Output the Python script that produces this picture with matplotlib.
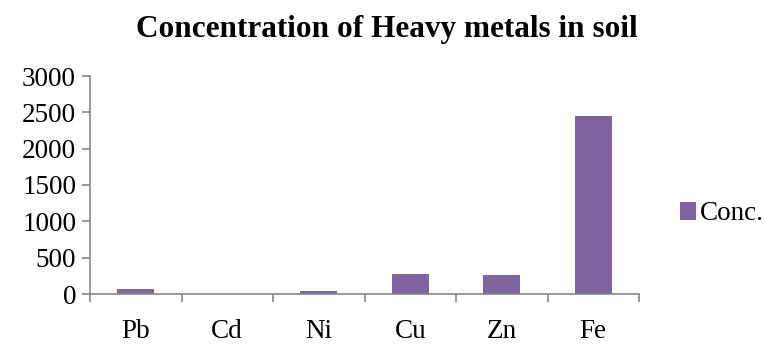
import matplotlib.pyplot as plt
import numpy as np

# soil heavy-metal concentrations
metals = ["Pb", "Cd", "Ni", "Cu", "Zn", "Fe"]
conc = [65, 1, 45, 275, 268, 2448]
y_ticks = [0, 500, 1000, 1500, 2000, 2500, 3000]

plt.rcParams["font.family"] = ["Liberation Serif", "DejaVu Serif"]

fig = plt.figure(figsize=(7.64, 3.46), dpi=100)
ax = fig.add_axes([90 / 764, 1 - 294 / 346, 549 / 764, 218 / 346])

x = np.arange(len(metals))
ax.bar(x, conc, width=0.4, color="#8064A2", label="Conc.")

ax.set_xlim(-0.5, len(metals) - 0.5)
ax.set_ylim(0, 3000)
ax.set_yticks(y_ticks)
ax.set_xticks(x)
ax.set_xticklabels(metals)
# category boundary ticks like a spreadsheet chart
ax.set_xticks(np.arange(-0.5, len(metals)), minor=True)
ax.tick_params(axis="x", which="major", length=0, pad=18, labelsize=19.5)
ax.tick_params(axis="x", which="minor", length=6, color="#868686", width=1.2)
ax.tick_params(axis="y", length=6, color="#868686", width=1.2, labelsize=19.5, pad=4)

for side in ["top", "right"]:
    ax.spines[side].set_visible(False)
for side in ["left", "bottom"]:
    ax.spines[side].set_color("#868686")
    ax.spines[side].set_linewidth(1.2)

fig.text(387 / 764, 1 - 30 / 346, "Concentration of Heavy metals in soil",
         ha="center", va="center", fontsize=22.5, fontweight="bold")

fig.legend(loc="center left", bbox_to_anchor=(680 / 764, 1 - 214 / 346),
           frameon=False, fontsize=19.5, handlelength=0.6, handleheight=0.6,
           handletextpad=0.15, borderpad=0, borderaxespad=0)

fig.savefig("out.png", dpi=100)
